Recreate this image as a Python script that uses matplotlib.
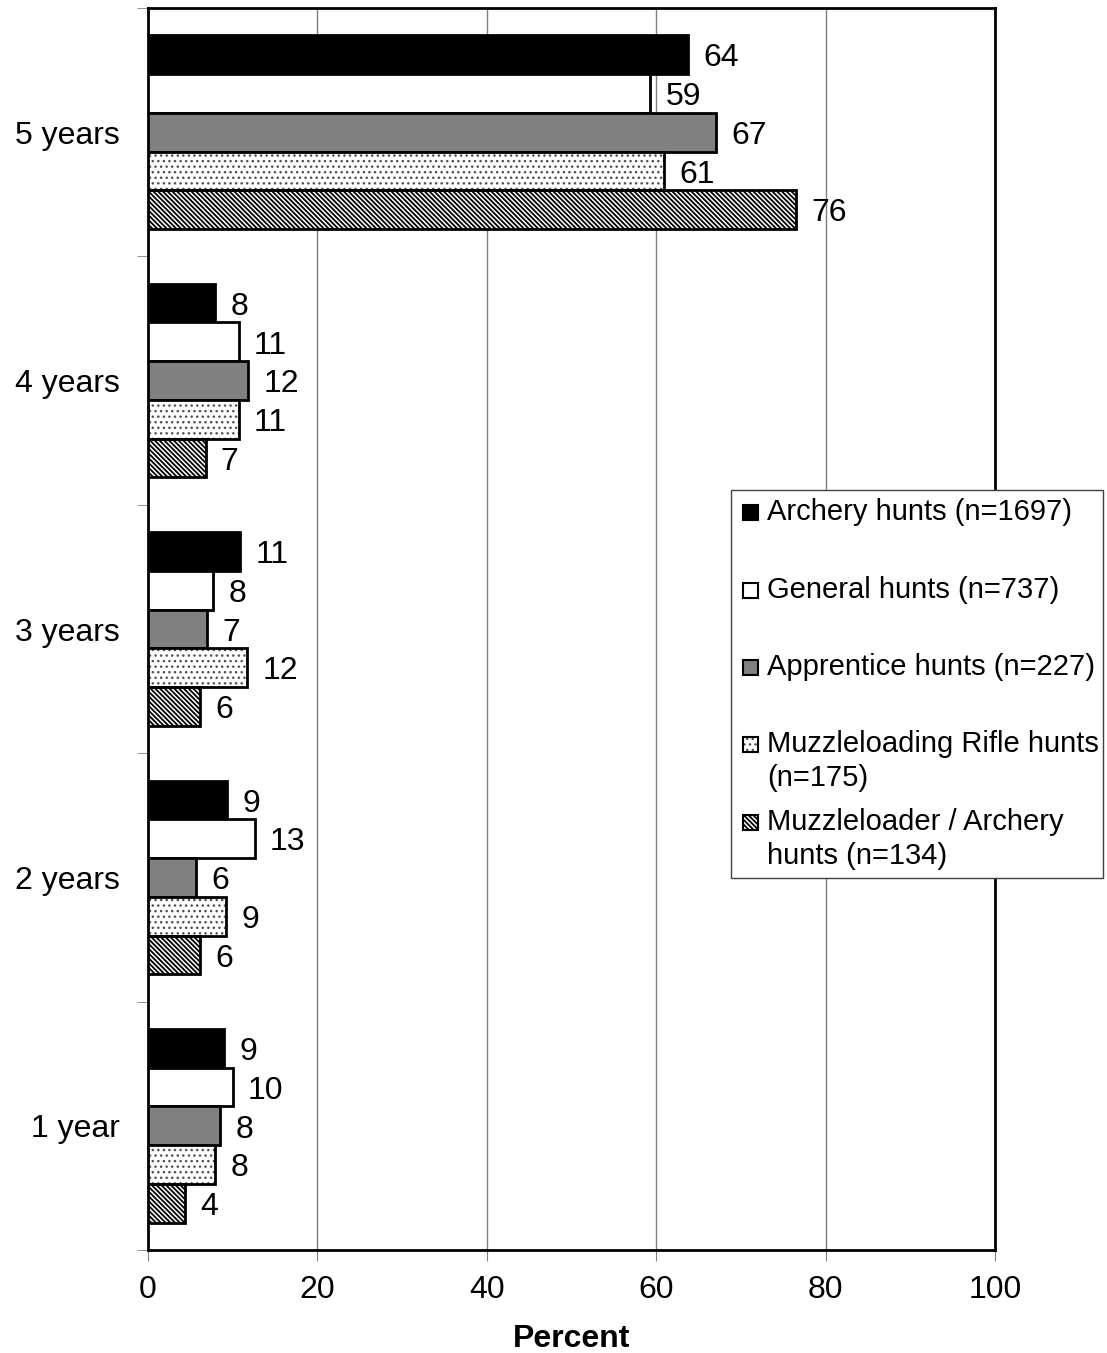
import numpy as np
import matplotlib.pyplot as plt
from matplotlib.patches import Rectangle

plt.rcParams['font.family'] = ['Liberation Sans', 'DejaVu Sans']

# 数据
categories = ['5 years', '4 years', '3 years', '2 years', '1 year']
series_names = ['Archery hunts (n=1697)',
                'General hunts (n=737)',
                'Apprentice hunts (n=227)',
                'Muzzleloading Rifle hunts\n(n=175)',
                'Muzzleloader / Archery\nhunts (n=134)']
archery = [63.8, 7.9, 10.9, 9.3, 9.0]
general = [59.3, 10.7, 7.7, 12.6, 10.0]
apprentice = [67.1, 11.8, 7.0, 5.7, 8.5]
muzzleloading = [60.9, 10.7, 11.7, 9.2, 7.9]
muzz_archery = [76.5, 6.8, 6.1, 6.1, 4.4]
series_values = [archery, general, apprentice, muzzleloading, muzz_archery]
value_labels = [
    [64, 8, 11, 9, 9],
    [59, 11, 8, 13, 10],
    [67, 12, 7, 6, 8],
    [61, 11, 12, 9, 8],
    [76, 7, 6, 6, 4],
]
x_ticks = [0, 20, 40, 60, 80, 100]

# 样式
face_colors = ['black', 'white', '#808080', 'white', 'white']
hatches = [None, None, None, '...', '\\' * 7]
hatch_colors = ['black', 'black', 'black', '#505050', 'black']
hatch_lw = [1.0, 1.0, 1.0, 1.0, 1.3]


def hatched(patch, k):
    # 填充图案用单独的颜色和线宽，边框另外画
    patch.set_edgecolor(hatch_colors[k])
    patch.set_linewidth(0)
    if hasattr(patch, 'set_hatch_linewidth'):
        patch.set_hatch_linewidth(hatch_lw[k])


fig = plt.figure(figsize=(11.07, 13.53), dpi=100)
ax = fig.add_axes([0.1337, 0.0761, 0.7651, 0.918])

bar_h = 0.156
y = np.arange(len(categories))
for k, vals in enumerate(series_values):
    pos = y + (k - 2) * bar_h
    bars = ax.barh(pos, vals, height=bar_h, color=face_colors[k],
                   edgecolor='black', linewidth=2, hatch=hatches[k], zorder=3)
    if hatches[k]:
        for b in bars:
            hatched(b, k)
        ax.barh(pos, vals, height=bar_h, color='none',
                edgecolor='black', linewidth=2, zorder=4)
    for p, v, lab in zip(pos, vals, value_labels[k]):
        ax.text(v + 1.8, p + 0.015, str(lab), va='center', ha='left', fontsize=23)

ax.set_xlim(0, 100)
ax.set_ylim(len(categories) - 0.5, -0.5)
ax.set_xticks(x_ticks)
ax.set_xticklabels([str(t) for t in x_ticks], fontsize=23)
ax.set_yticks(y)
ax.set_yticklabels(categories, fontsize=23)
ax.tick_params(axis='y', length=0, pad=20)
ax.set_yticks(np.arange(len(categories) + 1) - 0.5, minor=True)
ax.tick_params(axis='y', which='minor', length=8, color='#808080')
ax.tick_params(axis='x', length=8, color='#808080', pad=10)
ax.set_xlabel('Percent', fontsize=23, fontweight='bold', labelpad=14)
ax.grid(axis='x', color='#808080', linewidth=1, zorder=0)
for s in ax.spines.values():
    s.set_linewidth(2)

# 图例（手工画，条目按固定间距排列）
W, H = 1107, 1353
fig.patches.append(Rectangle((731 / W, 1 - 878 / H), 372 / W, 388 / H,
                             transform=fig.transFigure, facecolor='white',
                             edgecolor='#404040', linewidth=1, zorder=10))
entry_y = [512, 590, 667, 744, 822]
line_gap = 34
sq = 15
for k, name in enumerate(series_names):
    yc = entry_y[k]
    r = Rectangle((743 / W, 1 - (yc + sq / 2) / H), sq / W, sq / H,
                  transform=fig.transFigure, facecolor=face_colors[k],
                  edgecolor='black', linewidth=1.5, hatch=hatches[k], zorder=11)
    fig.patches.append(r)
    if hatches[k]:
        hatched(r, k)
        fig.patches.append(Rectangle((743 / W, 1 - (yc + sq / 2) / H), sq / W, sq / H,
                                     transform=fig.transFigure, facecolor='none',
                                     edgecolor='black', linewidth=1.5, zorder=12))
    for j, line in enumerate(name.split('\n')):
        fig.text(767 / W, 1 - (yc + j * line_gap) / H, line, fontsize=21,
                 va='center', ha='left', zorder=13)

fig.savefig('out.png', dpi=100)
